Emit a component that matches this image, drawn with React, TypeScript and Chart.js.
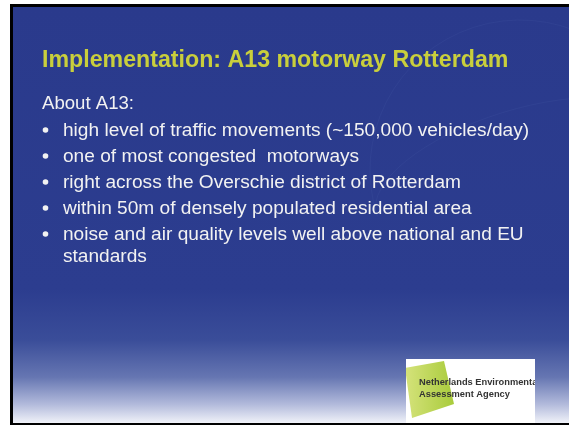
import React, { useEffect, useRef } from "react";
import { Chart, registerables } from "chart.js";

Chart.register(...registerables);

const titleText = "Implementation: A13 motorway Rotterdam";
const introText = "About A13:";
const bulletItems: string[][] = [
  ["high level of traffic movements (~150,000 vehicles/day)"],
  ["one of most congested  motorways"],
  ["right across the Overschie district of Rotterdam"],
  ["within 50m of densely populated residential area"],
  ["noise and air quality levels well above national and EU", "standards"],
];
const logoLines = ["Netherlands Environmental", "Assessment Agency"];

const FONT = "Arial, 'Liberation Sans', sans-serif";

const slidePlugin = {
  id: "slide",
  beforeDraw(chart: any) {
    const ctx: CanvasRenderingContext2D = chart.ctx;
    const W = chart.width;
    const H = chart.height;
    ctx.save();
    ctx.fillStyle = "#ffffff";
    ctx.fillRect(0, 0, W, H);
    ctx.fillStyle = "#000000";
    ctx.fillRect(10, 4, W - 10, 421);
    const x0 = 13, y0 = 7, x1 = W, y1 = 423;
    const g = ctx.createLinearGradient(0, y0, 0, y1);
    g.addColorStop(0, "#2a3a8c");
    g.addColorStop(0.68, "#2c3d8f");
    g.addColorStop(0.8, "#3a4d99");
    g.addColorStop(0.89, "#6676b2");
    g.addColorStop(0.955, "#b2badb");
    g.addColorStop(1, "#f0f2f9");
    ctx.fillStyle = g;
    ctx.fillRect(x0, y0, x1 - x0, y1 - y0);
    ctx.strokeStyle = "rgba(120,140,210,0.08)";
    ctx.lineWidth = 1;
    ctx.beginPath();
    ctx.arc(520, 170, 150, Math.PI * 0.9, Math.PI * 1.9);
    ctx.stroke();
    ctx.beginPath();
    ctx.ellipse(520, 170, 150, 60, -0.3, Math.PI, Math.PI * 2);
    ctx.stroke();
    ctx.restore();
  },
  afterDraw(chart: any) {
    const ctx: CanvasRenderingContext2D = chart.ctx;
    ctx.save();
    ctx.textBaseline = "alphabetic";
    ctx.textAlign = "left";
    ctx.fillStyle = "#c9cf3c";
    ctx.font = `bold 23.2px ${FONT}`;
    ctx.fillText(titleText, 42, 67);
    ctx.fillStyle = "#f2f2f2";
    ctx.font = `18.6px ${FONT}`;
    ctx.fillText(introText, 42, 109);
    ctx.font = `19.1px ${FONT}`;
    let y = 136;
    bulletItems.forEach((lines) => {
      ctx.beginPath();
      ctx.arc(45.5, y - 6, 2.8, 0, Math.PI * 2);
      ctx.fill();
      lines.forEach((ln, i) => {
        ctx.fillText(ln, 63, y + i * 22);
      });
      y += 26 + (lines.length - 1) * 22;
    });
    const lx = 406, ly = 359, lw = 129, lh = 64;
    ctx.fillStyle = "#ffffff";
    ctx.fillRect(lx, ly, lw, lh);
    ctx.save();
    ctx.beginPath();
    ctx.rect(lx, ly, lw, lh);
    ctx.clip();
    const gg = ctx.createLinearGradient(406, 0, 455, 0);
    gg.addColorStop(0, "#d4e27a");
    gg.addColorStop(1, "#a8cb3a");
    ctx.fillStyle = gg;
    ctx.beginPath();
    ctx.moveTo(405, 368);
    ctx.lineTo(444, 361);
    ctx.lineTo(454, 404);
    ctx.lineTo(412, 418);
    ctx.closePath();
    ctx.fill();
    ctx.fillStyle = "#333333";
    ctx.font = `bold 9.3px ${FONT}`;
    ctx.fillText(logoLines[0], 419, 385);
    ctx.fillText(logoLines[1], 419, 397);
    ctx.restore();
    ctx.restore();
  },
};

export default function App() {
  const ref = useRef<HTMLCanvasElement | null>(null);
  useEffect(() => {
    if (!ref.current) return;
    const chart = new Chart(ref.current, {
      type: "scatter",
      data: { datasets: [{ data: [] }] },
      options: {
        animation: false,
        responsive: false,
        events: [],
        plugins: { legend: { display: false }, tooltip: { enabled: false } },
        scales: { x: { display: false }, y: { display: false } },
      },
      plugins: [slidePlugin],
    });
    return () => chart.destroy();
  }, []);
  return (
    <div style={{ position: "fixed", left: 0, top: 0, width: 569, height: 426 }}>
      <canvas ref={ref} width={569} height={426} style={{ display: "block" }} />
    </div>
  );
}
